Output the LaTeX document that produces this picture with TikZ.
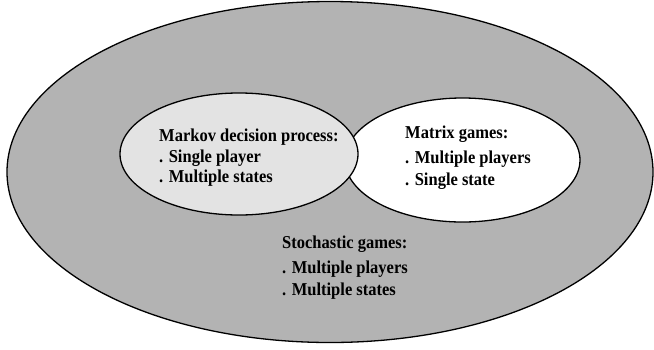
\documentclass[tikz,border=0pt]{standalone}
\usepackage{fontspec}
\usepackage{graphicx}
\setmainfont{Liberation Serif}
\definecolor{outergray}{RGB}{179,179,179}
\definecolor{lightgray2}{RGB}{227,227,227}
\newcommand{\tallertext}[1]{\scalebox{1}[1.1]{#1}}
\begin{document}
\begin{tikzpicture}[x=1pt,y=-1pt,
  region/.style={draw=black,line width=1.3pt},
  txt/.style={anchor=base west,inner sep=0pt,font=\bfseries\fontsize{16.5}{20}\selectfont}]
\useasboundingbox (0,0) rectangle (654,349);
\draw[region,fill=outergray] (330,172) ellipse [x radius=323,y radius=170.5];
\draw[region,fill=white] (462.5,160) ellipse [x radius=117.5,y radius=62];
\draw[region,fill=lightgray2] (239,154) ellipse [x radius=119,y radius=61];
% MDP
\node[txt] (m1) at (159,141) {\tallertext{Markov decision process:}};
\node[txt] (m2) at (159,162) {\tallertext{. Single player}};
\node[txt] (m3) at (159,182) {\tallertext{. Multiple states}};
% Matrix games
\node[txt] (g1) at (405,138) {\tallertext{Matrix games:}};
\node[txt] (g2) at (405,163) {\tallertext{. Multiple players}};
\node[txt] (g3) at (405,185) {\tallertext{. Single state}};
% Stochastic games
\node[txt] (s1) at (282,248) {\tallertext{Stochastic games:}};
\node[txt] (s2) at (282,273) {\tallertext{. Multiple players}};
\node[txt] (s3) at (282,295) {\tallertext{. Multiple states}};
\end{tikzpicture}
\end{document}
